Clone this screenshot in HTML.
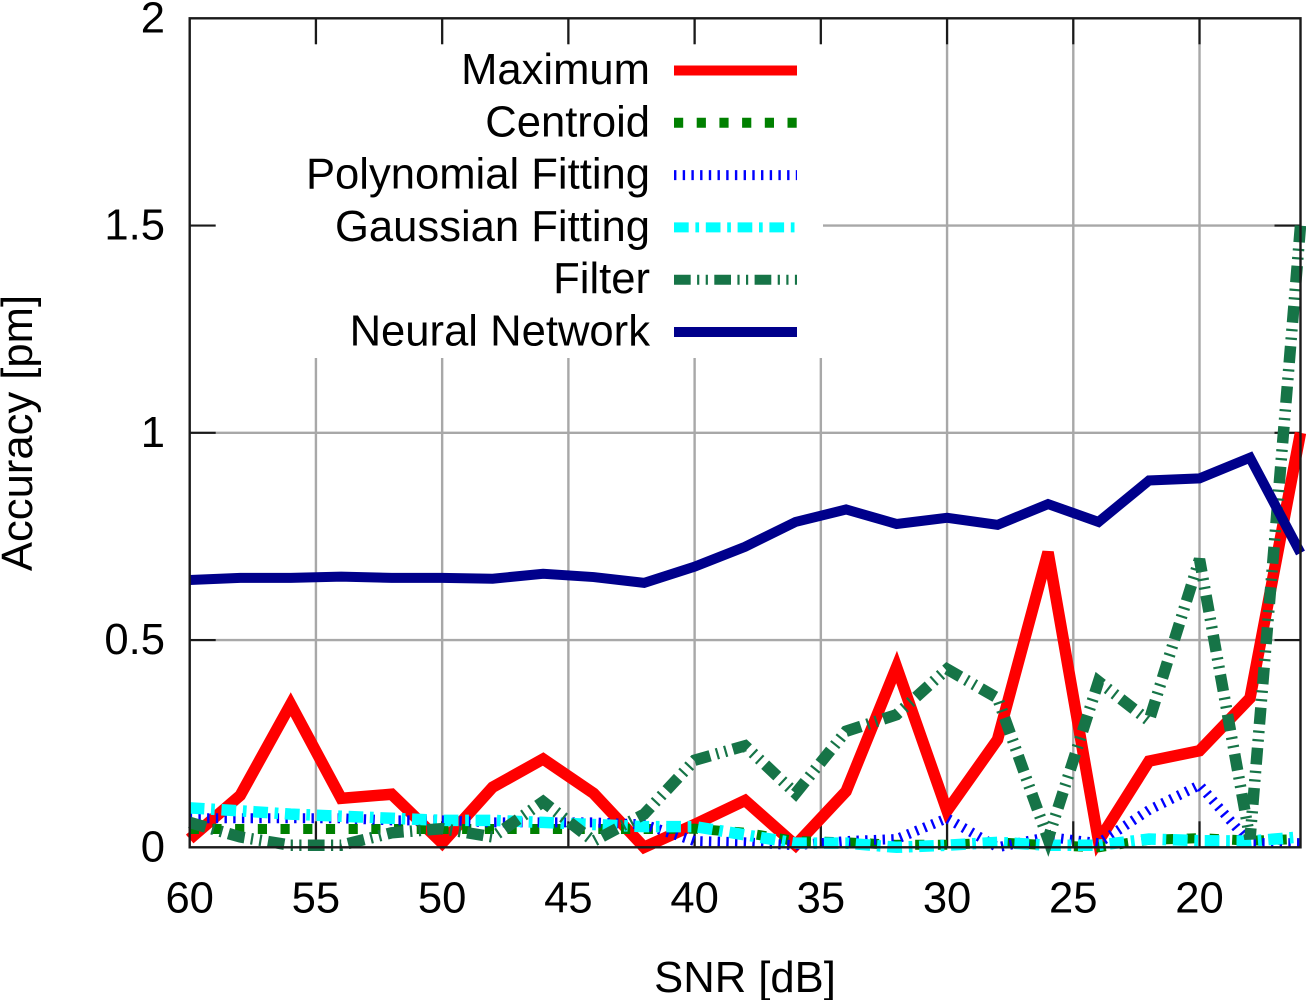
<!DOCTYPE html>
<html lang="en">
<head>
<meta charset="utf-8">
<title>Accuracy vs SNR</title>
<style>
html,body{margin:0;padding:0;background:#fff;width:1306px;height:1000px;overflow:hidden}
svg{display:block}
text{font-family:"Liberation Sans",sans-serif;font-size:43.6px;fill:#000}
</style>
</head>
<body>
<svg id="chart" xmlns="http://www.w3.org/2000/svg" width="1306" height="1000" viewBox="0 0 1306 1000">
  <rect x="0" y="0" width="1306" height="1000" fill="#fff"/>
  <g id="grid"></g>
  <rect x="188" y="44" width="635" height="314" fill="#fff"/>
  <g id="ticks"></g>
  <g id="series"></g>
  <rect x="189.7" y="18.3" width="1110.8" height="829" fill="none" stroke="#1a1a1a" stroke-width="2.4"/>
  <g id="tick-labels"></g>
  <text x="745" y="992" text-anchor="middle">SNR [dB]</text>
  <text x="0" y="0" text-anchor="middle" transform="translate(32,433) rotate(-90)">Accuracy [pm]</text>
  <g id="legend"></g>
</svg>
<script>
const snr = [60,58,56,54,52,50,48,46,44,42,40,38,36,34,32,30,28,26,24,22,20,18,16];
const maximum = [0.02,0.125,0.345,0.118,0.128,0.01,0.145,0.213,0.13,0.0,0.055,0.113,0.005,0.135,0.435,0.088,0.26,0.712,0.015,0.208,0.233,0.36,1.0];
const centroid = [0.044,0.044,0.044,0.044,0.044,0.044,0.044,0.044,0.044,0.044,0.045,0.035,0.015,0.012,0.006,0.006,0.012,0.005,0.0,0.018,0.022,0.016,0.02];
const polynomial = [0.07,0.07,0.07,0.07,0.065,0.065,0.06,0.06,0.06,0.055,0.015,0.012,0.005,0.015,0.02,0.07,0.0,0.025,0.01,0.09,0.15,0.01,0.01];
const gaussian = [0.095,0.088,0.08,0.075,0.07,0.065,0.065,0.06,0.055,0.05,0.05,0.03,0.01,0.01,0.0,0.005,0.012,0.005,0.005,0.02,0.016,0.015,0.025];
const filterSeries = [0.06,0.025,0.005,0.005,0.035,0.045,0.025,0.11,0.015,0.08,0.21,0.245,0.13,0.28,0.32,0.43,0.36,0.02,0.4,0.305,0.695,0.02,1.5];
const neuralNetwork = [0.645,0.65,0.65,0.653,0.65,0.65,0.648,0.66,0.652,0.638,0.677,0.725,0.785,0.815,0.78,0.795,0.778,0.828,0.785,0.885,0.89,0.94,0.71];
const xTickValues = [60,55,50,45,40,35,30,25,20];
const yTickValues = [0,0.5,1,1.5,2];
const seriesNames = ["Maximum","Centroid","Polynomial Fitting","Gaussian Fitting","Filter","Neural Network"];

const NS = "http://www.w3.org/2000/svg";
const X0 = 189.7, X1 = 1300.5, Y0 = 847.3, Y1 = 18.3;
const xMax = 60, xMin = 16, yMin = 0, yMax = 2;
function xScale(v){ return X0 + (xMax - v) / (xMax - xMin) * (X1 - X0); }
function yScale(v){ return Y0 - (v - yMin) / (yMax - yMin) * (Y0 - Y1); }
function make(tag, parent){
  const el = document.createElementNS(NS, tag);
  parent.appendChild(el);
  return el;
}
function setLine(el, x1, y1, x2, y2, color, width){
  el.setAttribute('x1', x1);
  el.setAttribute('y1', y1);
  el.setAttribute('x2', x2);
  el.setAttribute('y2', y2);
  el.setAttribute('stroke', color);
  el.setAttribute('stroke-width', width);
}

const grid = document.getElementById('grid');
const ticks = document.getElementById('ticks');
const labels = document.getElementById('tick-labels');

xTickValues.forEach(function(v){
  const x = xScale(v);
  if (v !== 60) {
    const g = make('line', grid);
    
    
    setLine(g, x, Y1, x, Y0, '#a8a8a8', 2.4);
    const t1 = make('line', ticks);
    
    
    setLine(t1, x, Y0, x, Y0 - 26, '#1a1a1a', 2.2);
    const t2 = make('line', ticks);
    
    
    setLine(t2, x, Y1, x, Y1 + 26, '#1a1a1a', 2.2);
  }
  const lab = make('text', labels);
  
  
  lab.setAttribute('x', x);
  lab.setAttribute('y', 912.5);
  lab.setAttribute('text-anchor', 'middle');
  lab.textContent = String(v);
});

yTickValues.forEach(function(v){
  const y = yScale(v);
  if (v !== 0 && v !== 2) {
    const g = make('line', grid);
    
    
    setLine(g, X0, y, X1, y, '#a8a8a8', 2.4);
    const t1 = make('line', ticks);
    
    
    setLine(t1, X0, y, X0 + 26, y, '#1a1a1a', 2.2);
    const t2 = make('line', ticks);
    
    
    setLine(t2, X1, y, X1 - 26, y, '#1a1a1a', 2.2);
  }
  const lab = make('text', labels);
  
  
  lab.setAttribute('x', 165);
  lab.setAttribute('y', y + 14);
  lab.setAttribute('text-anchor', 'end');
  lab.textContent = String(v);
});

const seriesValues = [maximum, centroid, polynomial, gaussian, filterSeries, neuralNetwork];
const seriesColors = ['#ff0000','#008000','#0000ff','#00ffff','#167447','#00008b'];
const seriesDashes = ['none','9.2 13.5','2.4 6.3','14.7 6.7 3.7 6.7','16.7 6.4 2.2 6.4 2.2 6.4','none'];
const seriesWidths = [11.5,10,10,11.5,11.5,10];
const seriesIds = ['maximum','centroid','polynomial-fitting','gaussian-fitting','filter','neural-network'];

const seriesGroup = document.getElementById('series');
seriesValues.forEach(function(values, i){
  const line = make('polyline', seriesGroup);
  
  
  line.setAttribute('points', values.map(function(v, k){
    return xScale(snr[k]).toFixed(2) + ',' + yScale(v).toFixed(2);
  }).join(' '));
  line.setAttribute('fill', 'none');
  line.setAttribute('stroke', seriesColors[i]);
  line.setAttribute('stroke-width', seriesWidths[i]);
  line.setAttribute('stroke-dasharray', seriesDashes[i]);
  line.setAttribute('stroke-linejoin', 'miter');
  line.setAttribute('stroke-linecap', 'butt');
});

const legend = document.getElementById('legend');
seriesNames.forEach(function(name, i){
  const y = 70.5 + i * 52.3;
  const lab = make('text', legend);
  
  
  lab.setAttribute('x', 650);
  lab.setAttribute('y', y + 13.5);
  lab.setAttribute('text-anchor', 'end');
  lab.textContent = name;
  const sample = make('line', legend);
  
  
  setLine(sample, 674, y, 797, y, seriesColors[i], 10);
  sample.setAttribute('stroke-dasharray', seriesDashes[i]);
});
</script>
</body>
</html>
